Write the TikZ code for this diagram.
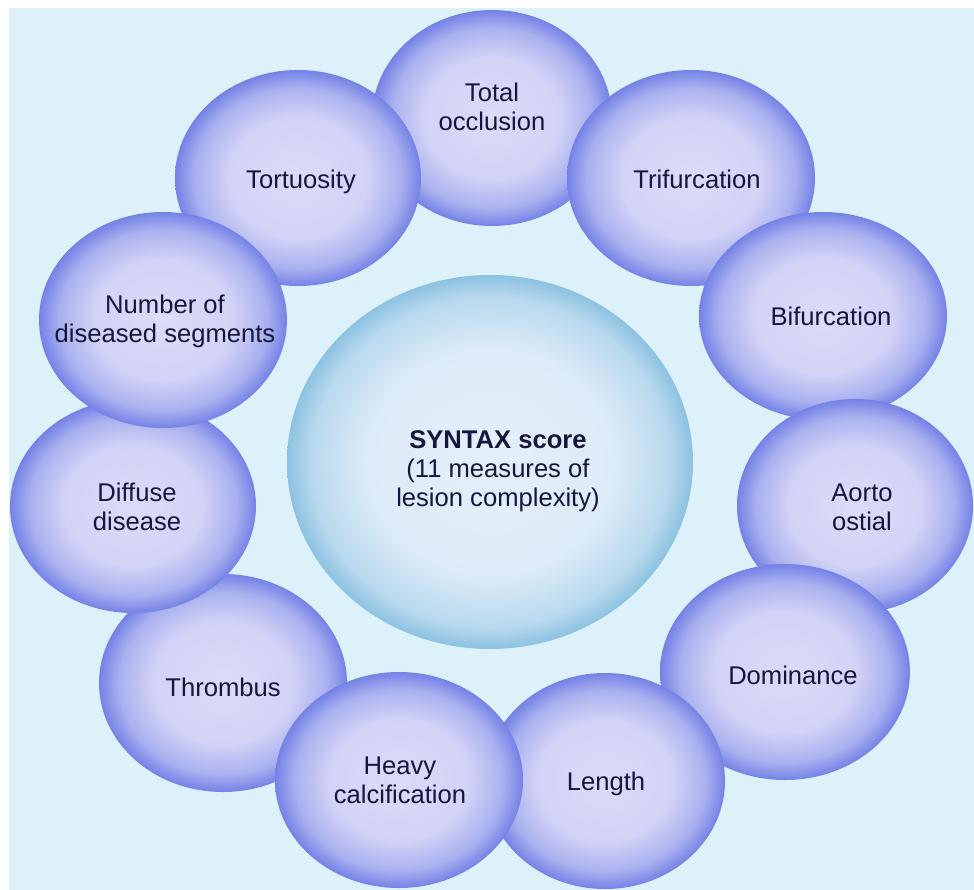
\documentclass[tikz,border=0pt]{standalone}
\usepackage{fontspec}
\setmainfont{Liberation Sans}
\usetikzlibrary{shapes.geometric}
\definecolor{bgblue}{HTML}{DDF1FB}
\definecolor{bA}{HTML}{DCDCF8}
\definecolor{bB}{HTML}{D2D3F6}
\definecolor{bC}{HTML}{A9B0EF}
\definecolor{bD}{HTML}{7482E6}
\definecolor{cA}{HTML}{E4EFF9}
\definecolor{cB}{HTML}{DDEBF8}
\definecolor{cC}{HTML}{B9D9EE}
\definecolor{cD}{HTML}{8CC2E1}
\definecolor{ink}{HTML}{15163C}
\pgfdeclareradialshading{bubbleshade}{\pgfpoint{0bp}{0bp}}{color(0bp)=(bA); color(14bp)=(bB); color(21bp)=(bC); color(25bp)=(bD); color(50bp)=(bD)}
\pgfdeclareradialshading{coreshade}{\pgfpoint{0bp}{0bp}}{color(0bp)=(cA); color(15bp)=(cB); color(22bp)=(cC); color(25bp)=(cD); color(50bp)=(cD)}
% \lbl{dx}{dy}{text}: centred label, shifted right by dx and down by dy (in bp)
\newcommand{\lbl}[3]{\makebox[0pt][c]{\hspace*{#1bp}\hspace*{#1bp}\raisebox{-#2bp}[\height][\depth]{\begin{tabular}{@{}c@{}}#3\end{tabular}}}}
\begin{document}
\begin{tikzpicture}[x=1bp,y=-1bp,
  bubble/.style={ellipse, inner sep=0pt, outer sep=0pt, shade, shading=bubbleshade,
    text=ink, font=\fontsize{25.7}{29}\selectfont},
  core/.style={ellipse, inner sep=0pt, outer sep=0pt, shade, shading=coreshade,
    text=ink, font=\fontsize{25.7}{29}\selectfont},
  sz/.style 2 args={minimum width=#1bp, minimum height=#2bp}]
\useasboundingbox (0,0) rectangle (974,890);
\fill[white] (0,0) rectangle (974,890);
\fill[bgblue] (9,8) rectangle (974,890);
% central circle
\node[core, sz={406}{374}] (syntax) at (490,462)
  {\lbl{8}{10}{\textbf{SYNTAX score}\\(11 measures of\\lesion complexity)}};
% ring of measures (drawing order gives the overlaps)
\node[bubble, sz={248}{218}] (thromb) at (223,683) {\lbl{0}{8}{Thrombus}};
\node[bubble, sz={246}{214}] (diffuse) at (133,506) {\lbl{4}{4}{Diffuse\\disease}};
\node[bubble, sz={240}{216}] (total) at (492,118) {\lbl{0}{-8}{Total\\occlusion}};
\node[bubble, sz={246}{216}] (tort) at (298,178) {\lbl{3}{5}{Tortuosity}};
\node[bubble, sz={248}{216}] (segments) at (163,320) {\lbl{2}{2}{Number of\\diseased segments}};
\node[bubble, sz={248}{216}] (trif) at (691,178) {\lbl{6}{5}{Trifurcation}};
\node[bubble, sz={248}{208}] (bif) at (823,316) {\lbl{8}{4}{Bifurcation}};
\node[bubble, sz={236}{214}] (aorto) at (855,506) {\lbl{7}{4}{Aorto\\ostial}};
\node[bubble, sz={250}{216}] (dom) at (785,672) {\lbl{8}{7}{Dominance}};
\node[bubble, sz={240}{216}] (length) at (605,781) {\lbl{1}{4}{Length}};
\node[bubble, sz={248}{216}] (heavy) at (399,780) {\lbl{1}{3}{Heavy\\calcification}};
\end{tikzpicture}
\end{document}
